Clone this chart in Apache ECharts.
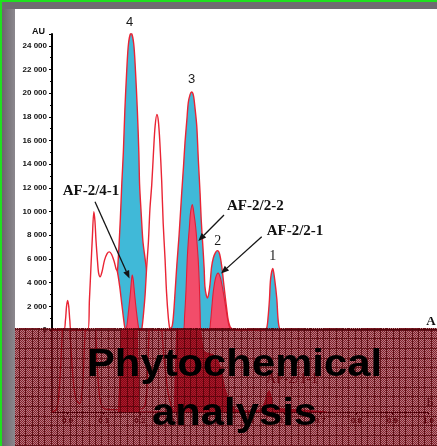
<!DOCTYPE html>
<html><head><meta charset="utf-8">
<script src="https://cdn.jsdelivr.net/npm/echarts@6/dist/echarts.min.js"></script>
<style>html,body{margin:0;padding:0;background:#fff;overflow:hidden}#c{width:437px;height:446px}</style>
</head><body><div id="c"></div>
<script>
// ---------- data (Rf, AU) ----------
const rfTicks = [0, 0.1, 0.2, 0.3, 0.4, 0.5, 0.6, 0.7, 0.8, 0.9, 1.0];
const auTicks = [0, 2000, 4000, 6000, 8000, 10000, 12000, 14000, 16000, 18000, 20000, 22000, 24000];

// standard chromatogram (blue peaks 4, 3, 2, 1)
const standardTrace = [
 [0.111,0],[0.117,100],[0.122,700],[0.126,1800],[0.130,3300],[0.134,4900],[0.138,7000],[0.142,9500],
 [0.146,12500],[0.150,15000],[0.154,18500],[0.159,21800],[0.164,24200],[0.171,25100],[0.178,24200],
 [0.183,21800],[0.188,18500],[0.192,15000],[0.194,12300],[0.199,9500],[0.203,7500],[0.209,6000],
 [0.213,5000],[0.215,4000],[0.220,2500],[0.225,1000],[0.230,200],[0.236,0],
 [0.271,0],[0.276,100],[0.282,300],[0.286,1300],[0.290,3100],[0.295,5500],[0.301,8000],[0.308,11500],
 [0.313,13800],[0.317,15800],[0.322,17700],[0.326,19200],[0.331,19900],[0.335,20100],[0.340,19800],
 [0.344,18800],[0.349,17200],[0.353,14500],[0.358,11500],[0.361,9300],[0.365,7300],[0.369,5200],
 [0.371,3700],[0.375,2900],[0.378,2700],[0.381,3000],[0.385,3900],[0.389,5300],[0.394,6100],
 [0.400,6550],[0.405,6700],[0.411,6400],[0.417,5300],[0.421,4200],[0.425,3100],[0.430,1800],
 [0.434,850],[0.439,300],[0.444,100],[0.447,0],
 [0.528,0],[0.538,150],[0.542,1000],[0.546,2600],[0.549,4300],[0.555,5200],[0.560,4300],
 [0.566,2600],[0.569,1000],[0.573,150],[0.580,0]
];

// sample chromatogram (red outline, unfilled peaks)
const sampleTrace = [
 [-0.043,0],[-0.012,0],[-0.007,800],[-0.004,2000],[-0.001,2500],[0.002,2000],[0.005,800],[0.009,0],
 [0.054,0],[0.058,2500],[0.062,5200],[0.066,7800],[0.070,10000],[0.073,9200],[0.076,7500],[0.080,5800],
 [0.083,4800],[0.087,4500],[0.092,4900],[0.099,5900],[0.106,6450],[0.112,6600],[0.118,6400],[0.125,5800],
 [0.130,5200],[0.134,4900],[0.140,3700],[0.145,2400],[0.150,1100],[0.154,200],[0.157,0],
 [0.198,0],[0.201,300],[0.205,1500],[0.209,3000],[0.213,5200],[0.218,7500],[0.222,10200],[0.227,12300],
 [0.232,15200],[0.236,17200],[0.241,18200],[0.245,17600],[0.249,15800],[0.254,12500],[0.258,9000],
 [0.263,6000],[0.267,3200],[0.272,1000],[0.276,0]
];

// fractions AF-2/4-1, AF-2/2-2, AF-2/2-1 (red filled)
const fractionTrace = [
 [0.156,0],[0.159,250],[0.164,1600],[0.169,3100],[0.172,4200],[0.174,4650],[0.177,4200],[0.180,3200],
 [0.185,1700],[0.191,250],[0.194,0],
 [0.312,0],[0.316,1200],[0.320,3500],[0.323,5900],[0.326,7500],[0.329,8700],[0.332,9900],[0.337,10600],
 [0.341,9900],[0.346,8700],[0.350,7200],[0.353,5900],[0.356,3800],[0.358,1500],[0.360,0],
 [0.382,0],[0.386,600],[0.390,2000],[0.394,3300],[0.400,4400],[0.407,4800],[0.413,4400],[0.419,3500],
 [0.425,2400],[0.431,1200],[0.436,400],[0.442,0]
];

// lower chromatogram (B), mostly hidden
const lowerSampleTrace = [
 [-0.043,0],[-0.030,300],[-0.022,2500],[-0.016,6000],[-0.011,9000],[0.000,9500],[0.008,6000],
 [0.016,2500],[0.024,1000],[0.033,700],[0.041,2000],[0.049,7000],[0.060,10000],[0.073,9000],
 [0.081,4500],[0.089,1200],[0.100,300],[0.127,200],[0.209,300],[0.222,4000],[0.230,9000],
 [0.249,10000],[0.266,5000],[0.279,1500],[0.293,0]
];
const lowerFractionTrace = [
 [0.141,0],[0.146,4000],[0.152,9000],[0.171,14000],[0.190,9000],[0.195,4000],[0.201,0],
 [0.293,0],[0.298,3000],[0.304,8000],[0.320,14000],[0.339,15000],[0.358,10000],[0.369,7000],
 [0.377,5200],[0.390,5000],[0.407,4800],[0.423,3800],[0.436,2000],[0.450,800],[0.466,200],
 [0.507,100],[0.534,200],[0.545,700],[0.553,1500],[0.558,1800],[0.564,1300],[0.572,400],
 [0.602,250],[0.656,150],[0.718,0]
];

// ---------- styling ----------
const RED = '#ea2434';
const BLUE = '#40b9d8';
const PINK = '#f24d6a';
const X_MIN = -16 / 369;

function makePattern() {
  const c = document.createElement('canvas');
  c.width = 19; c.height = 29;
  const g = c.getContext('2d');
  const vx = [0, 6, 13], hy = [0, 10, 19];
  for (let y = 0; y < 29; y++) for (let x = 0; x < 19; x++) {
    let col;
    if (vx.includes(x) || hy.includes(y)) col = 'rgba(85,0,6,0.92)';
    else col = ((x + y) % 2 === 0) ? 'rgba(115,0,14,0.88)' : 'rgba(115,0,14,0.52)';
    g.fillStyle = col; g.fillRect(x, y, 1, 1);
  }
  return c;
}

function arrow(x1, y1, x2, y2) {
  const a = Math.atan2(y2 - y1, x2 - x1), L = 8, W = 3.2;
  const bx = x2 - L * Math.cos(a), by = y2 - L * Math.sin(a);
  return [
    {type: 'line', z: 20, shape: {x1, y1, x2: bx, y2: by}, style: {stroke: '#151515', lineWidth: 1.3}},
    {type: 'polygon', z: 20, shape: {points: [[x2, y2], [bx - W * Math.sin(a), by + W * Math.cos(a)], [bx + W * Math.sin(a), by - W * Math.cos(a)]]}, style: {fill: '#151515'}}
  ];
}

function txt(x, y, text, font, fill, z, extra) {
  return Object.assign({type: 'text', x, y, z, style: {text, font, fill, textAlign: 'center', textVerticalAlign: 'middle'}}, extra || {});
}

const chart = echarts.init(document.getElementById('c'), null, {renderer: 'canvas'});

const labelFont = {fontSize: 8, fontWeight: 'bold', fontFamily: 'Liberation Sans', color: '#111'};

const option = {
  animation: false,
  backgroundColor: '#ffffff',
  grid: [
    {left: 52, right: 0, top: 34, height: 296},
    {left: 52, right: 0, top: 330, height: 82}
  ],
  xAxis: [
    {type: 'value', gridIndex: 0, min: X_MIN, max: 1, axisLine: {show: true, onZero: false, lineStyle: {color: '#000', width: 1.5}},
     axisTick: {show: false}, axisLabel: {show: false}, splitLine: {show: false}},
    {type: 'value', gridIndex: 1, min: X_MIN, max: 1, axisLine: {show: true, onZero: false, lineStyle: {color: '#000', width: 1.2}},
     axisTick: {show: true, customValues: rfTicks, length: 3, lineStyle: {color: '#000'}},
     axisLabel: {customValues: rfTicks, formatter: v => v.toFixed(1), fontSize: 8, fontWeight: 'bold', fontFamily: 'Liberation Sans', color: '#2a0505', margin: 5},
     splitLine: {show: false}}
  ],
  yAxis: [
    {type: 'value', gridIndex: 0, min: 0, max: 25000, interval: 2000,
     axisLine: {show: true, onZero: false, lineStyle: {color: '#000', width: 2}},
     axisTick: {show: true, length: 3, lineStyle: {color: '#000', width: 1}},
     minorTick: {show: true, splitNumber: 2, length: 2, lineStyle: {color: '#000'}},
     axisLabel: Object.assign({margin: 5, showMaxLabel: false,
       formatter: v => (v > 24000 ? '' : v === 0 ? '0' : (v / 1000) + ' 000')}, labelFont),
     splitLine: {show: false}},
    {type: 'value', gridIndex: 1, min: 0, max: 7000,
     axisLine: {show: true, onZero: false, lineStyle: {color: '#000', width: 1.5}},
     axisTick: {show: false}, axisLabel: {show: false}, splitLine: {show: false}}
  ],
  series: [
    {type: 'line', name: 'standard', xAxisIndex: 0, yAxisIndex: 0, data: standardTrace, smooth: 0.3, symbol: 'none', z: 2,
     lineStyle: {color: RED, width: 1.4}, areaStyle: {color: BLUE, opacity: 1}},
    {type: 'line', name: 'sample', xAxisIndex: 0, yAxisIndex: 0, data: sampleTrace, smooth: 0.3, symbol: 'none', z: 3,
     lineStyle: {color: RED, width: 1.4}, areaStyle: {color: '#ffffff', opacity: 1}},
    {type: 'line', name: 'fractions', xAxisIndex: 0, yAxisIndex: 0, data: fractionTrace, smooth: 0.3, symbol: 'none', z: 4,
     lineStyle: {color: '#e21d36', width: 1.1}, areaStyle: {color: PINK, opacity: 1}},
    {type: 'line', name: 'lowerSample', xAxisIndex: 1, yAxisIndex: 1, data: lowerSampleTrace, smooth: 0.3, symbol: 'none', z: 2,
     lineStyle: {color: RED, width: 1.3}},
    {type: 'line', name: 'lowerFractions', xAxisIndex: 1, yAxisIndex: 1, data: lowerFractionTrace, smooth: 0.3, symbol: 'none', z: 3,
     lineStyle: {color: '#e21d36', width: 1.1}, areaStyle: {color: '#e8384f', opacity: 1}}
  ],
  graphic: {elements: [
    // peak numbers
    txt(129.5, 22.7, '4', '13px "Liberation Sans"', '#1a1a1a', 10),
    txt(191.7, 79.3, '3', '13px "Liberation Sans"', '#1a1a1a', 10),
    txt(217.7, 241.7, '2', '14px "Liberation Serif"', '#1a1a1a', 10),
    txt(272.7, 256.7, '1', '14px "Liberation Serif"', '#1a1a1a', 10),
    // axis unit and chart letters
    txt(38.5, 31.5, 'AU', 'bold 9px "Liberation Sans"', '#111', 10),
    txt(431, 321.5, 'A', 'bold 13px "Liberation Serif"', '#111', 10),
    txt(430, 403, 'Б', '13px "Liberation Serif"', '#222', 10),
    txt(292, 379, 'AF-2/1-1', '14px "Liberation Serif"', '#5a0c12', 10),
    // fraction annotations
    txt(91, 191.5, 'AF-2/4-1', 'bold 15px "Liberation Serif"', '#111', 20),
    txt(255.3, 206.3, 'AF-2/2-2', 'bold 15px "Liberation Serif"', '#111', 20),
    txt(295, 231, 'AF-2/2-1', 'bold 15px "Liberation Serif"', '#111', 20),
    ...arrow(95, 201.7, 129.5, 278.5),
    ...arrow(224, 215, 198.3, 241),
    ...arrow(261.7, 236.7, 221, 273.5),
    // overlay
    {type: 'rect', z: 80, shape: {x: 15, y: 328, width: 422, height: 118}, style: {fill: {image: makePattern(), repeat: 'repeat'}}},
    {type: 'line', z: 81, shape: {x1: 15, y1: 328.5, x2: 437, y2: 328.5}, style: {stroke: 'rgba(90,0,8,0.8)', lineWidth: 1, lineDash: [1, 1]}},
    txt(234.5, 366, 'Phytochemical', 'bold 38px "Liberation Sans"', '#000', 90, {scaleX: 1.1}),
    txt(234.5, 414.5, 'analysis', 'bold 38px "Liberation Sans"', '#000', 90, {scaleX: 1.1}),
    // frame
    {type: 'rect', z: 100, shape: {x: 2, y: 2, width: 13, height: 444},
     style: {fill: new echarts.graphic.LinearGradient(0, 0, 1, 0, [{offset: 0, color: '#6a666c'}, {offset: 1, color: '#8c888e'}])}},
    {type: 'rect', z: 100, shape: {x: 2, y: 2, width: 435, height: 7}, style: {fill: '#6f6b71'}},
    {type: 'rect', z: 101, shape: {x: 0, y: 0, width: 2, height: 446}, style: {fill: '#1fe01f'}},
    {type: 'rect', z: 101, shape: {x: 0, y: 0, width: 437, height: 2}, style: {fill: '#1fe01f'}}
  ]}
};
chart.setOption(option);
</script>
</body></html>
